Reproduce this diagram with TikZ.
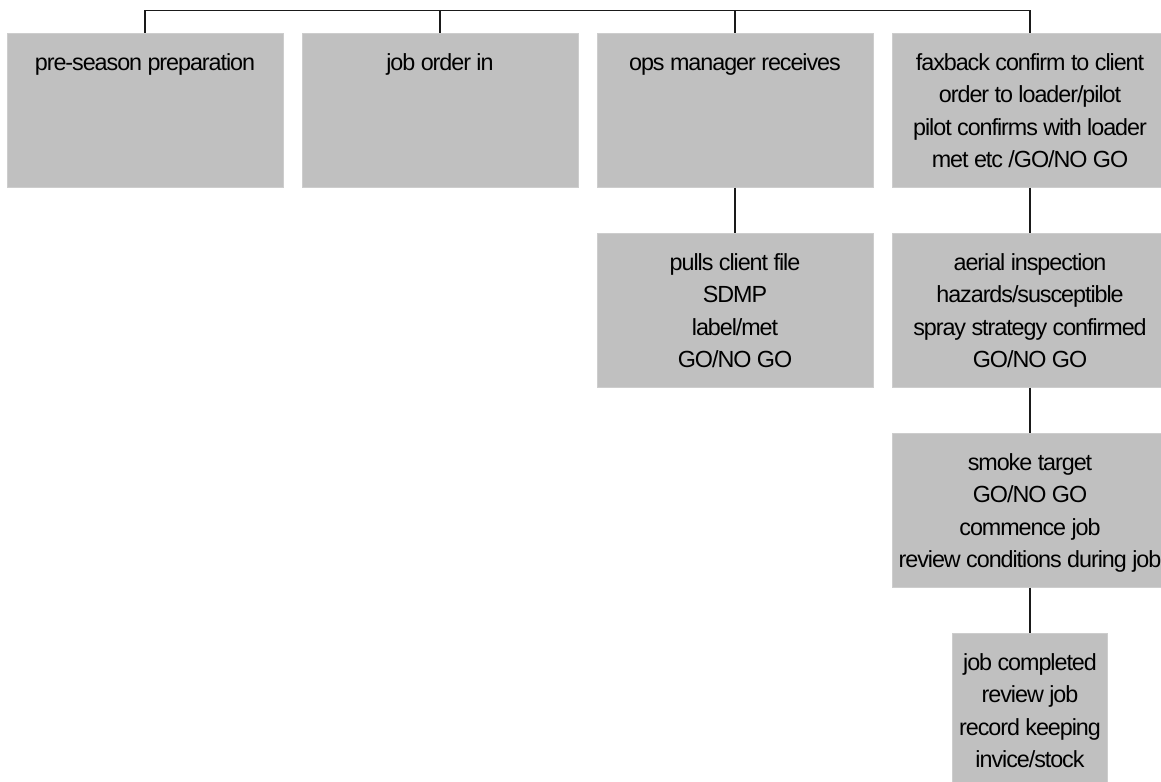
\documentclass[tikz,border=0pt]{standalone}
\usepackage{fontspec}
\setmainfont{Liberation Sans}[LetterSpace=-4.5]
\usetikzlibrary{positioning}
\definecolor{cardfill}{HTML}{C0C0C0}
\definecolor{cardedge}{HTML}{CDCDCD}
\definecolor{ink}{HTML}{1A1A1A}
% card text: fixed height, lines from the top
\newcommand{\cardlines}[2]{\parbox[c][115.5pt][t]{#1}{\centering\rule{0pt}{27.75pt}#2}}
\tikzset{
  stagecard/.style={
    draw=cardedge, fill=cardfill, line width=0.75pt,
    inner sep=0pt, font=\fontsize{17.5}{24.4}\selectfont
  },
  link/.style={draw=ink, line width=0.8pt}
}

\begin{document}
\begin{tikzpicture}[x=0.75pt,y=0.75pt,node distance=33.75pt and 13.5pt]
  \clip (0,0) rectangle (1161,-782);
  % top row
  \node[stagecard] (prep) at (145,-110) {\cardlines{207pt}{pre-season preparation}};
  \node[stagecard,right=of prep] (order) {\cardlines{207pt}{job order in}};
  \node[stagecard,right=of order] (ops) {\cardlines{207pt}{ops manager receives}};
  \node[stagecard,right=of ops] (fax) {\cardlines{207pt}{faxback confirm to client\\
    order to loader/pilot\\ pilot confirms with loader\\ met etc /GO/NO GO}};
  % chains below
  \node[stagecard,below=of ops] (pulls) {\cardlines{207pt}{pulls client file\\ SDMP\\
    label/met\\ GO/NO GO}};
  \node[stagecard,below=of fax] (aerial) {\cardlines{207pt}{aerial inspection\\
    hazards/susceptible\\ spray strategy confirmed\\ GO/NO GO}};
  \node[stagecard,below=of aerial] (smoke) {\cardlines{207pt}{smoke target\\ GO/NO GO\\
    commence job\\ review conditions during job}};
  \node[stagecard,below=of smoke] (done) {\cardlines{116.25pt}{job completed\\ review job\\
    record keeping\\ invice/stock}};
  % connectors
  \coordinate (busL) at ([yshift=16.5pt]prep.north);
  \coordinate (busR) at ([yshift=16.5pt]fax.north);
  \draw[link] (prep.north) -- (busL) -- (busR) -- (fax.north);
  \draw[link] (order.north) -- (order.north |- busL);
  \draw[link] (ops.north) -- (ops.north |- busL);
  \draw[link] (ops.south) -- (pulls.north);
  \draw[link] (fax.south) -- (aerial.north);
  \draw[link] (aerial.south) -- (smoke.north);
  \draw[link] (smoke.south) -- (done.north);
\end{tikzpicture}
\end{document}
